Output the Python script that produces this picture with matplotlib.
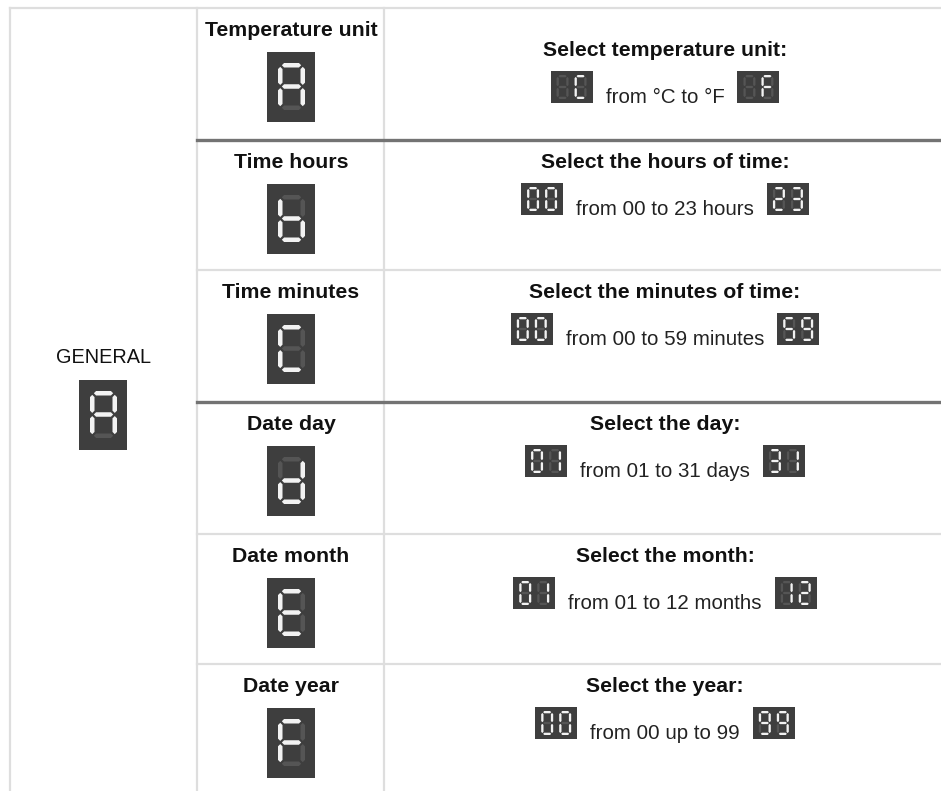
import matplotlib
matplotlib.use('Agg')
import matplotlib.pyplot as plt
from matplotlib.patches import Rectangle, Polygon

# Contenu du tableau
group_label = "GENERAL"
group_code = "A"
param_names = ["Temperature unit", "Time hours", "Time minutes",
               "Date day", "Date month", "Date year"]
param_codes = ["A", "b", "C", "d", "E", "F"]
desc_titles = ["Select temperature unit:", "Select the hours of time:",
               "Select the minutes of time:", "Select the day:",
               "Select the month:", "Select the year:"]
desc_texts = ["from °C to °F", "from 00 to 23 hours", "from 00 to 59 minutes",
              "from 01 to 31 days", "from 01 to 12 months", "from 00 up to 99"]
range_start = [" C", "00", "00", "01", "01", "00"]
range_end = [" F", "23", "59", "31", "12", "99"]

# Segments allumés pour chaque caractère
SEGS = {'0': 'abcdef', '1': 'bc', '2': 'abged', '3': 'abgcd', '4': 'fgbc',
        '5': 'afgcd', '6': 'afgedc', '7': 'abc', '8': 'abcdefg', '9': 'abcdfg',
        'A': 'abcefg', 'b': 'fgecd', 'C': 'afed', 'd': 'bgedc', 'E': 'afged',
        'F': 'afge', ' ': ''}

W, H = 941, 791
row_tops = [8, 140, 270, 402, 534, 664]
dark_rows = [1, 3]
x_left, x_col1, x_col2 = 10, 197, 384
name_cx, desc_cx = 291, 665

BG, OFF, ON = '#3e3e3e', '#555555', '#f2f2f2'
LIGHT, DARK = '#dedede', '#737373'
FONT = 'Liberation Sans'

fig = plt.figure(figsize=(W / 100, H / 100), dpi=100)
ax = fig.add_axes([0, 0, 1, 1])
ax.set_xlim(0, W)
ax.set_ylim(H, 0)
ax.axis('off')
renderer = fig.canvas.get_renderer()


def hseg(xa, xb, yc, t):
    return [(xa, yc), (xa + t / 2, yc - t / 2), (xb - t / 2, yc - t / 2),
            (xb, yc), (xb - t / 2, yc + t / 2), (xa + t / 2, yc + t / 2)]


def vseg(xc, ya, yb, t):
    return [(xc, ya), (xc + t / 2, ya + t / 2), (xc + t / 2, yb - t / 2),
            (xc, yb), (xc - t / 2, yb - t / 2), (xc - t / 2, ya + t / 2)]


def draw_digit(L, R, T, B, ch, t):
    xl, xr = L + t / 2, R - t / 2
    yt, yb = T + t / 2, B - t / 2
    m = (T + B) / 2
    g = t * 0.35
    shapes = {
        'a': hseg(xl + g, xr - g, yt, t),
        'b': vseg(xr, yt + g, m - g, t),
        'c': vseg(xr, m + g, yb - g, t),
        'd': hseg(xl + g, xr - g, yb, t),
        'e': vseg(xl, m + g, yb - g, t),
        'f': vseg(xl, yt + g, m - g, t),
        'g': hseg(xl + g, xr - g, m, t),
    }
    for k, pts in shapes.items():
        col = ON if k in SEGS[ch] else OFF
        ax.add_patch(Polygon(pts, closed=True, fc=col, ec='none', zorder=3))


def big_icon(cx, top, ch):
    x = cx - 24
    ax.add_patch(Rectangle((x, top), 48, 70, fc=BG, ec='none', zorder=2))
    draw_digit(x + 11, x + 38, top + 11, top + 58, ch, 4.5)


def small_icon(x, top, code):
    ax.add_patch(Rectangle((x, top), 42, 32, fc=BG, ec='none', zorder=2))
    draw_digit(x + 6, x + 18, top + 4, top + 28, code[0], 2.3)
    draw_digit(x + 24, x + 36, top + 4, top + 28, code[1], 2.3)


# Bordures
ax.plot([x_left, W], [8, 8], color=LIGHT, lw=1.6, zorder=1)
ax.plot([x_left, x_left], [8, H], color=LIGHT, lw=1.6, zorder=1)
for xv in (x_col1, x_col2):
    ax.plot([xv, xv], [8, H], color=LIGHT, lw=1.6, zorder=1)
for i, yt in enumerate(row_tops[1:], start=1):
    if i in dark_rows:
        ax.plot([x_col1, W], [yt, yt], color=DARK, lw=2.4, zorder=1.5)
    else:
        ax.plot([x_col1, W], [yt, yt], color=LIGHT, lw=1.6, zorder=1)

# Colonne de gauche
ax.text(104, 363, group_label, ha='center', va='baseline',
        fontsize=14.3, family=FONT, color='#111111')
big_icon(103, 380, group_code)

# Lignes de paramètres
for i in range(len(param_names)):
    top = row_tops[i]
    icon_top = top + 44
    ax.text(name_cx, icon_top - 15.5, param_names[i], ha='center', va='baseline',
            fontsize=15.3, fontweight='bold', family=FONT, color='#111111')
    big_icon(name_cx, icon_top, param_codes[i])

    box_top = top + 63 if i == 0 else top + 43
    ax.text(desc_cx, box_top - 15, desc_titles[i], ha='center', va='baseline',
            fontsize=15.3, fontweight='bold', family=FONT, color='#111111')
    t = ax.text(desc_cx, box_top + 32, desc_texts[i], ha='center', va='baseline',
                fontsize=14.8, family=FONT, color='#222222')
    tw = t.get_window_extent(renderer).width
    small_icon(desc_cx - tw / 2 - 13 - 42, box_top, range_start[i])
    small_icon(desc_cx + tw / 2 + 13, box_top, range_end[i])

fig.savefig('out.png', dpi=100)
